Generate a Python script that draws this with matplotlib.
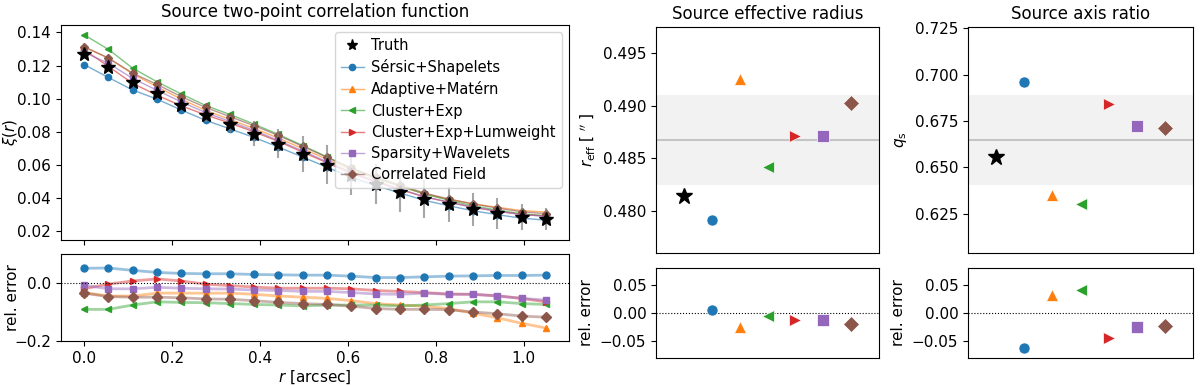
import numpy as np
import matplotlib
matplotlib.use("Agg")
import matplotlib.pyplot as plt
from matplotlib.colors import to_rgba

plt.rcParams['font.size'] = 11
plt.rcParams['axes.titlesize'] = 12

# ---------------- data ----------------
labels = ["Sérsic+Shapelets", "Adaptive+Matérn", "Cluster+Exp",
          "Cluster+Exp+Lumweight", "Sparsity+Wavelets", "Correlated Field"]
colors = ["C0", "C1", "C2", "C3", "C4", "C5"]
markers = ["o", "^", "<", ">", "s", "D"]

r = [0.0, 0.0553, 0.1105, 0.1658, 0.2211, 0.2763, 0.3316, 0.3868, 0.4421, 0.4974,
     0.5526, 0.6079, 0.6632, 0.7184, 0.7737, 0.8289, 0.8842, 0.9395, 0.9947, 1.05]

xi_truth = [0.127, 0.119, 0.110, 0.1035, 0.0963, 0.0898, 0.0844, 0.0788, 0.0728, 0.0664,
            0.0601, 0.0537, 0.0483, 0.0437, 0.0393, 0.0360, 0.0330, 0.0306, 0.0284, 0.0272]
xi_truth_err = [0.0005, 0.001, 0.0015, 0.002, 0.003, 0.004, 0.005, 0.0075, 0.009, 0.011,
                0.012, 0.012, 0.012, 0.012, 0.0115, 0.0105, 0.010, 0.0093, 0.008, 0.0065]

xi_sersic = [0.1206, 0.1128, 0.1052, 0.0997, 0.0931, 0.0869, 0.0817, 0.0765, 0.0707, 0.0646,
             0.0585, 0.0524, 0.0474, 0.0429, 0.0385, 0.0352, 0.0322, 0.0298, 0.0277, 0.0265]
xi_adaptive = [0.1312, 0.1244, 0.1150, 0.1071, 0.0997, 0.0929, 0.0874, 0.0819, 0.0761, 0.0697,
               0.0633, 0.0570, 0.0517, 0.0470, 0.0424, 0.0392, 0.0364, 0.0343, 0.0323, 0.0314]
xi_cluster = [0.1386, 0.1298, 0.1184, 0.1102, 0.1028, 0.0959, 0.0904, 0.0846, 0.0783, 0.0716,
              0.0647, 0.0578, 0.0520, 0.0472, 0.0423, 0.0386, 0.0351, 0.0326, 0.0304, 0.0292]
xi_lumw = [0.1295, 0.1195, 0.1092, 0.1021, 0.0956, 0.0902, 0.0852, 0.0799, 0.0741, 0.0676,
           0.0612, 0.0548, 0.0496, 0.0450, 0.0406, 0.0374, 0.0343, 0.0319, 0.0299, 0.0290]
xi_sparsity = [0.1280, 0.1214, 0.1122, 0.1051, 0.0980, 0.0916, 0.0862, 0.0807, 0.0747, 0.0683,
               0.0618, 0.0555, 0.0501, 0.0454, 0.0407, 0.0374, 0.0343, 0.0320, 0.0299, 0.0288]
xi_corrfield = [0.1314, 0.1246, 0.1154, 0.1086, 0.1012, 0.0947, 0.0891, 0.0836, 0.0777, 0.0711,
                0.0645, 0.0580, 0.0526, 0.0477, 0.0429, 0.0393, 0.0363, 0.0338, 0.0316, 0.0304]

rel_sersic = [0.0506, 0.0518, 0.0435, 0.0365, 0.0329, 0.0318, 0.0318, 0.0294, 0.0282, 0.0271,
              0.0271, 0.0235, 0.0188, 0.0188, 0.0212, 0.0235, 0.0247, 0.0259, 0.0259, 0.0271]
rel_adaptive = [-0.033, -0.045, -0.045, -0.035, -0.035, -0.035, -0.035, -0.039, -0.045, -0.049,
                -0.053, -0.061, -0.071, -0.076, -0.080, -0.088, -0.104, -0.120, -0.139, -0.155]
rel_cluster = [-0.091, -0.091, -0.076, -0.065, -0.067, -0.068, -0.071, -0.074, -0.076, -0.079,
               -0.076, -0.076, -0.076, -0.079, -0.076, -0.071, -0.065, -0.065, -0.071, -0.074]
rel_lumw = [-0.020, -0.004, 0.007, 0.014, 0.007, -0.004, -0.009, -0.014, -0.018, -0.018,
            -0.018, -0.020, -0.026, -0.029, -0.033, -0.038, -0.039, -0.044, -0.053, -0.065]
rel_sparsity = [-0.008, -0.020, -0.020, -0.015, -0.018, -0.020, -0.021, -0.024, -0.026, -0.029,
                -0.029, -0.033, -0.038, -0.039, -0.035, -0.039, -0.039, -0.045, -0.053, -0.059]
rel_corrfield = [-0.035, -0.047, -0.049, -0.049, -0.051, -0.055, -0.056, -0.061, -0.067, -0.071,
                 -0.074, -0.080, -0.088, -0.091, -0.091, -0.092, -0.100, -0.106, -0.114, -0.118]

xi_models = [xi_sersic, xi_adaptive, xi_cluster, xi_lumw, xi_sparsity, xi_corrfield]
rel_models = [rel_sersic, rel_adaptive, rel_cluster, rel_lumw, rel_sparsity, rel_corrfield]

reff_truth = 0.48144
reff_models = [0.47911, 0.49257, 0.48421, 0.48715, 0.48715, 0.49024]
reff_rel = [0.0050, -0.0240, -0.0060, -0.0125, -0.0125, -0.0185]

q_truth = 0.6556
q_models = [0.6963, 0.6349, 0.6300, 0.6841, 0.6723, 0.6712]
q_rel = [-0.0617, 0.0323, 0.0400, -0.0430, -0.0254, -0.0235]

# ---------------- figure ----------------
fig = plt.figure(figsize=(12, 3.86), dpi=100)
ax1 = fig.add_axes([0.0508, 0.3782, 0.4233, 0.5570])
ax2 = fig.add_axes([0.0508, 0.1166, 0.4233, 0.2254], sharex=ax1)
ax3 = fig.add_axes([0.5467, 0.3446, 0.1858, 0.5855])
ax4 = fig.add_axes([0.5467, 0.0725, 0.1858, 0.2332])
ax5 = fig.add_axes([0.8067, 0.3446, 0.1875, 0.5855])
ax6 = fig.add_axes([0.8067, 0.0725, 0.1875, 0.2332])

# left top
for xi, lab, c, m in zip(xi_models, labels, colors, markers):
    ax1.plot(r, xi, color=to_rgba(c, 0.6), lw=1.0, marker=m, ms=4.5,
             mfc=c, mec=c, label=lab, zorder=2)
ax1.errorbar(r, xi_truth, yerr=xi_truth_err, fmt='none', ecolor='grey',
             alpha=0.7, elinewidth=1.5, zorder=3)
ax1.plot(r, xi_truth, ls='none', marker='*', ms=10, color='k', zorder=4)
hs, ls_ = ax1.get_legend_handles_labels()
truth_h = plt.Line2D([], [], ls='none', marker='*', ms=8, color='k')
ax1.legend([truth_h] + hs, ["Truth"] + ls_, loc='upper right', fontsize=10.5,
           handlelength=1.6, handletextpad=0.5, labelspacing=0.42)
ax1.set_ylabel(r"$\xi(r)$")
ax1.yaxis.set_label_coords(-0.08, 0.5)
ax1.set_title("Source two-point correlation function")
ax1.tick_params(labelbottom=False)

# left bottom
for rel, c, m in zip(rel_models, colors, markers):
    ax2.plot(r, rel, color=to_rgba(c, 0.45), lw=2.0, marker=m, ms=5,
             mfc=c, mec=c)
ax2.axhline(0, color='k', ls=':', lw=0.8)
ax2.set_ylim(-0.2, 0.1)
ax2.set_yticks([-0.2, 0.0])
ax2.set_ylabel("rel. error")
ax2.yaxis.set_label_coords(-0.08, 0.5)
ax2.set_xlabel(r"$r$ [arcsec]", labelpad=2)


def param_panel(ax_top, ax_bot, truth, models, rels, ylabel, title):
    mean = np.mean(models)
    std = np.std(models)
    ax_top.axhspan(mean - std, mean + std, color='grey', alpha=0.1, lw=0)
    ax_top.axhline(mean, color='grey', alpha=0.4, lw=1.5)
    ax_top.plot([0], [truth], marker='*', ms=12, color='k', ls='none')
    for i, (v, c, m) in enumerate(zip(models, colors, markers)):
        ax_top.plot([i + 1], [v], marker=m, ms=8, color=c, mec='white', mew=0.5, ls='none')
    ax_top.set_xlim(-1, 7)
    ax_top.set_ylim(mean - 2.5 * std, mean + 2.5 * std)
    ax_top.set_xticks([])
    ax_top.set_ylabel(ylabel)
    ax_top.set_title(title)
    ax_bot.axhline(0, color='k', ls=':', lw=0.8)
    for i, (v, c, m) in enumerate(zip(rels, colors, markers)):
        ax_bot.plot([i + 1], [v], marker=m, ms=8, color=c, mec='white', mew=0.5, ls='none')
    ax_bot.set_xlim(-1, 7)
    ax_bot.set_ylim(-0.079, 0.079)
    ax_bot.set_yticks([-0.05, 0.0, 0.05])
    ax_bot.set_xticks([])
    ax_bot.set_ylabel("rel. error")


param_panel(ax3, ax4, reff_truth, reff_models, reff_rel,
            r"$r_{\rm eff}$ [ $''$ ]", "Source effective radius")
ax3.set_yticks([0.480, 0.485, 0.490, 0.495])
param_panel(ax5, ax6, q_truth, q_models, q_rel,
            r"$q_{\rm s}$", "Source axis ratio")
ax5.set_yticks([0.625, 0.650, 0.675, 0.700, 0.725])

fig.savefig("out.png", dpi=100)
